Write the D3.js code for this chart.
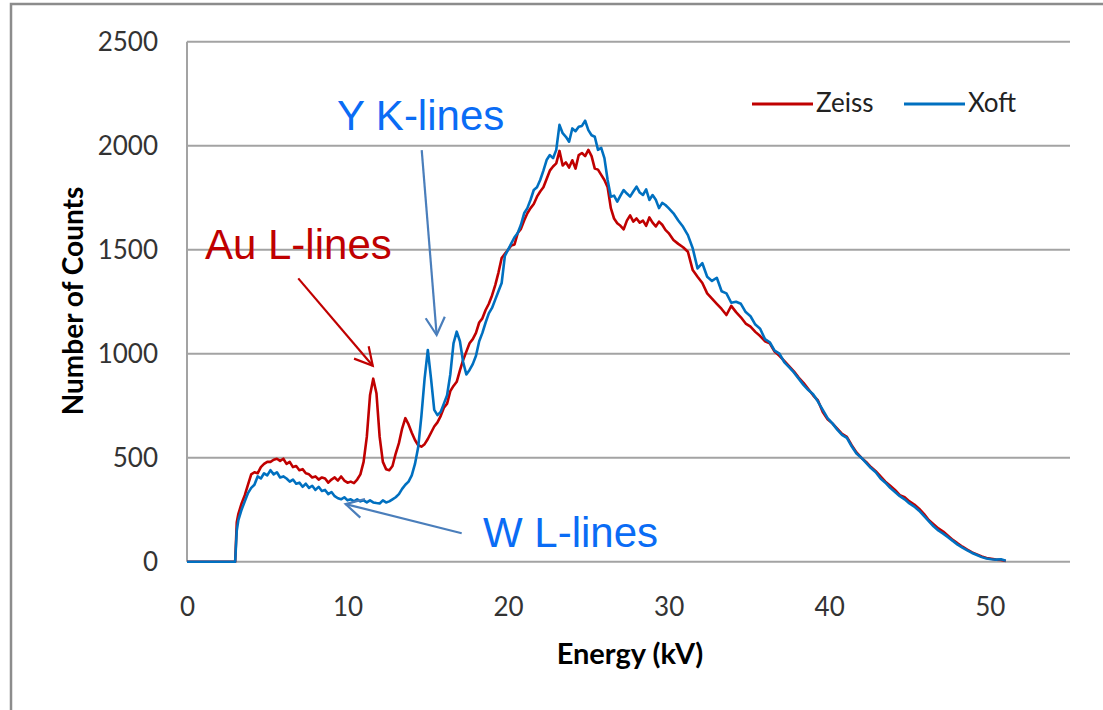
<!DOCTYPE html>
<html>
<head>
<meta charset="utf-8">
<script src="https://cdn.jsdelivr.net/npm/d3@7"></script>
<style>
  html, body { margin: 0; padding: 0; background: #fff; }
  svg { display: block; }
</style>
</head>
<body>
<svg id="chart" width="1103" height="710"></svg>
<script>
// ---------------- DATA ----------------
const energies = [
  0, 3.0, 3.1, 3.2, 3.4, 3.6, 3.8, 4.0, 4.2, 4.4,
  4.6, 4.8, 5.0, 5.2, 5.4, 5.6, 5.8, 6.0, 6.2, 6.4,
  6.6, 6.8, 7.0, 7.2, 7.4, 7.6, 7.8, 8.0, 8.2, 8.4,
  8.6, 8.8, 9.0, 9.2, 9.4, 9.6, 9.8, 10.0, 10.2, 10.4,
  10.6, 10.8, 11.0, 11.2, 11.4, 11.6, 11.8, 12.0, 12.2, 12.4,
  12.6, 12.8, 13.0, 13.2, 13.4, 13.6, 13.8, 14.0, 14.2, 14.4,
  14.6, 14.8, 15.0, 15.2, 15.4, 15.6, 15.8, 16.0, 16.2, 16.4,
  16.6, 16.8, 17.0, 17.2, 17.4, 17.6, 17.8, 18.0, 18.2, 18.4,
  18.6, 18.8, 19.0, 19.2, 19.4, 19.6, 19.8, 20.0, 20.2, 20.4,
  20.6, 20.8, 21.0, 21.2, 21.4, 21.6, 21.8, 22.0, 22.2, 22.4,
  22.6, 22.8, 23.0, 23.2, 23.4, 23.6, 23.8, 24.0, 24.2, 24.4,
  24.6, 24.8, 25.0, 25.2, 25.4, 25.6, 25.8, 26.0, 26.2, 26.4,
  26.6, 26.8, 27.0, 27.2, 27.4, 27.6, 27.8, 28.0, 28.2, 28.4,
  28.6, 28.8, 29.0, 29.2, 29.4, 29.6, 29.8, 30.0, 30.3, 30.6,
  30.9, 31.2, 31.5, 31.8, 32.1, 32.4, 32.7, 33.0, 33.3, 33.6,
  33.9, 34.2, 34.5, 34.8, 35.1, 35.4, 35.7, 36.0, 36.3, 36.6,
  36.9, 37.2, 37.5, 37.8, 38.1, 38.4, 38.7, 39.0, 39.3, 39.6,
  39.9, 40.2, 40.5, 40.8, 41.1, 41.4, 41.7, 42.0, 42.3, 42.6,
  42.9, 43.2, 43.5, 43.8, 44.1, 44.4, 44.7, 45.0, 45.3, 45.6,
  45.9, 46.2, 46.5, 46.8, 47.1, 47.4, 47.7, 48.0, 48.3, 48.6,
  48.9, 49.2, 49.5, 49.8, 50.1, 50.4, 50.7, 51.0
];

const zeissCounts = [
  0, 0, 190, 230, 280, 320, 370, 420, 430, 425,
  455, 470, 480, 480, 490, 495, 485, 495, 470, 480,
  455, 460, 440, 445, 425, 420, 405, 410, 395, 405,
  400, 380, 395, 405, 390, 410, 390, 380, 385, 378,
  395, 420, 480, 600, 800, 880, 810, 600, 480, 445,
  440, 460, 520, 570, 640, 690, 660, 620, 585, 560,
  553, 565, 590, 620, 650, 670, 700, 740, 760, 820,
  845, 865, 920, 970, 1010, 1050, 1070, 1100, 1150, 1170,
  1210, 1240, 1280, 1330, 1390, 1460, 1480, 1500, 1520, 1525,
  1580, 1600, 1640, 1675, 1700, 1720, 1755, 1780, 1800, 1840,
  1880, 1900, 1915, 1975, 1905, 1920, 1895, 1930, 1890, 1955,
  1965, 1950, 1980, 1950, 1890, 1885, 1860, 1835, 1800, 1700,
  1650, 1627, 1615, 1598, 1640, 1665, 1635, 1650, 1630, 1640,
  1615, 1655, 1630, 1612, 1635, 1620, 1595, 1580, 1547, 1528,
  1512, 1490, 1402, 1370, 1340, 1290, 1265, 1240, 1215, 1186,
  1230, 1200, 1175, 1145, 1130, 1105, 1085, 1060, 1050, 1010,
  990, 965, 940, 915, 885, 860, 830, 800, 775, 720,
  685, 665, 640, 615, 600, 560, 525, 500, 480, 455,
  435, 410, 385, 365, 345, 320, 310, 290, 275, 255,
  230, 200, 180, 160, 145, 125, 105, 88, 72, 58,
  45, 35, 25, 18, 14, 10, 8, 3
];

const xoftCounts = [
  0, 0, 150, 200, 250, 290, 330, 355, 370, 410,
  400, 425, 415, 440, 420, 430, 405, 410, 400, 385,
  395, 375, 380, 360, 375, 355, 365, 345, 360, 340,
  345, 325, 335, 315, 305, 300, 310, 295, 300, 290,
  300, 290, 295, 285, 295, 285, 282, 280, 295, 285,
  290, 300, 310, 325, 350, 370, 385, 415, 470, 550,
  700, 880, 1018, 880, 730, 705, 720, 760, 800, 900,
  1050, 1106, 1060, 960, 900, 922, 950, 990, 1060, 1100,
  1150, 1194, 1220, 1260, 1300, 1340, 1470, 1500, 1530, 1560,
  1580, 1620, 1675, 1700, 1740, 1787, 1800, 1835, 1880, 1931,
  1955, 1940, 1980, 2100, 2060, 2043, 2019, 2083, 2070, 2091,
  2095, 2120, 2075, 2050, 2043, 1980, 1990, 1940, 1835, 1755,
  1760, 1731, 1760, 1787, 1770, 1755, 1780, 1803, 1775, 1763,
  1790, 1739, 1763, 1740, 1700, 1725, 1715, 1700, 1675, 1640,
  1610, 1570, 1507, 1410, 1435, 1370, 1350, 1365, 1300, 1290,
  1245, 1250, 1240, 1200, 1180, 1140, 1120, 1070, 1055, 1015,
  1000, 960, 935, 910, 880, 850, 825, 805, 770, 730,
  690, 665, 635, 610, 595, 555, 520, 500, 475, 450,
  430, 400, 380, 355, 335, 315, 300, 280, 265, 245,
  220, 195, 170, 150, 135, 118, 100, 82, 68, 55,
  42, 32, 22, 15, 12, 10, 12, 5
];

const seriesNames = ["Zeiss", "Xoft"];
const seriesColors = ["#C00000", "#0070C0"];
const xTicks = [0, 10, 20, 30, 40, 50];
const yTicks = [0, 500, 1000, 1500, 2000, 2500];

// Annotations in data units
const annoLabels = ["Y K-lines", "Au L-lines", "W L-lines"];
const annoText = [[9.34, 2076], [1.12, 1455], [18.44, 71]];
const annoArrowFrom = [[14.62, 1979], [6.93, 1362], [17.11, 137]];
const annoArrowTo = [[15.55, 1090], [11.57, 942], [9.88, 277]];
const annoTextColors = ["#0A6CF5", "#C00000", "#0A6CF5"];
const annoArrowColors = ["#4A7EBB", "#C00000", "#4A7EBB"];

// ---------------- CHART ----------------
const svg = d3.select("#chart");
const plot = { left: 187, right: 1070, top: 41.7, bottom: 561.7 };

const x = d3.scaleLinear().domain([0, 55]).range([plot.left, plot.right]);
const y = d3.scaleLinear().domain([0, 2500]).range([plot.bottom, plot.top]);

// outer frame
svg.append("path")
  .attr("d", "M11,710 L11,4 L1103,4")
  .attr("fill", "none").attr("stroke", "#8c8c8c").attr("stroke-width", 2.5);

// gridlines
svg.append("g").selectAll("line").data(yTicks).join("line")
  .attr("x1", plot.left).attr("x2", plot.right)
  .attr("y1", d => y(d)).attr("y2", d => y(d))
  .attr("stroke", "#a3a3a3").attr("stroke-width", 2);

// left axis line
svg.append("line")
  .attr("x1", plot.left).attr("x2", plot.left)
  .attr("y1", plot.top).attr("y2", plot.bottom)
  .attr("stroke", "#a3a3a3").attr("stroke-width", 2);

// y tick labels
const yAxis = d3.axisLeft(y).tickValues(yTicks).tickFormat(d3.format("d")).tickSize(0).tickPadding(29);
const gy = svg.append("g").attr("transform", `translate(${plot.left},0)`).call(yAxis);
gy.select(".domain").remove();
gy.selectAll("text")
  .attr("font-family", "Lato, 'Open Sans', sans-serif")
  .attr("font-size", 26).attr("fill", "#333");

// x tick labels
const xAxis = d3.axisBottom(x).tickValues(xTicks).tickFormat(d3.format("d")).tickSize(0).tickPadding(36);
const gx = svg.append("g").attr("transform", `translate(0,${plot.bottom})`).call(xAxis);
gx.select(".domain").remove();
gx.selectAll("text")
  .attr("font-family", "Lato, 'Open Sans', sans-serif")
  .attr("font-size", 26).attr("fill", "#333");

// axis titles
svg.append("text")
  .attr("transform", "translate(83,301) rotate(-90)")
  .attr("text-anchor", "middle")
  .attr("font-family", "Lato, 'Open Sans', sans-serif")
  .attr("font-weight", "bold").attr("font-size", 28).attr("fill", "#000")
  .text("Number of Counts");

svg.append("text")
  .attr("x", 630).attr("y", 664)
  .attr("text-anchor", "middle")
  .attr("font-family", "Lato, 'Open Sans', sans-serif")
  .attr("font-weight", "bold").attr("font-size", 29).attr("fill", "#000")
  .text("Energy (kV)");

// series lines
const seriesValues = [zeissCounts, xoftCounts];
const line = d3.line()
  .x(d => x(d[0]))
  .y(d => y(d[1]));

seriesValues.forEach((vals, i) => {
  const pts = energies.map((e, j) => [e, vals[j]]);
  svg.append("path")
    .datum(pts)
    .attr("d", line)
    .attr("fill", "none")
    .attr("stroke", seriesColors[i])
    .attr("stroke-width", 2.6)
    .attr("stroke-linejoin", "round");
});

// legend
const legendX = [752, 904];
seriesNames.forEach((name, i) => {
  svg.append("line")
    .attr("x1", legendX[i]).attr("x2", legendX[i] + 61)
    .attr("y1", 104).attr("y2", 104)
    .attr("stroke", seriesColors[i]).attr("stroke-width", 3);
  svg.append("text")
    .attr("x", legendX[i] + 64).attr("y", 112)
    .attr("font-family", "Lato, 'Open Sans', sans-serif")
    .attr("font-size", 26).attr("fill", "#222")
    .text(name);
});

// annotations
function arrowHead(x1, y1, x2, y2, len, ang) {
  const a = Math.atan2(y1 - y2, x1 - x2);
  const p1 = [x2 + len * Math.cos(a + ang), y2 + len * Math.sin(a + ang)];
  const p2 = [x2 + len * Math.cos(a - ang), y2 + len * Math.sin(a - ang)];
  return `M${p1[0]},${p1[1]} L${x2},${y2} L${p2[0]},${p2[1]}`;
}

annoLabels.forEach((lab, i) => {
  const fx = x(annoArrowFrom[i][0]), fy = y(annoArrowFrom[i][1]);
  const tx = x(annoArrowTo[i][0]), ty = y(annoArrowTo[i][1]);
  svg.append("line")
    .attr("x1", fx).attr("y1", fy).attr("x2", tx).attr("y2", ty)
    .attr("stroke", annoArrowColors[i]).attr("stroke-width", 2.2);
  svg.append("path")
    .attr("d", arrowHead(fx, fy, tx, ty, 20, 0.5))
    .attr("fill", "none")
    .attr("stroke", annoArrowColors[i]).attr("stroke-width", 2.2);
  svg.append("text")
    .attr("x", x(annoText[i][0])).attr("y", y(annoText[i][1]))
    .attr("font-family", "'Liberation Sans', Arial, sans-serif")
    .attr("font-size", 42).attr("fill", annoTextColors[i])
    .text(lab);
});
</script>
</body>
</html>
